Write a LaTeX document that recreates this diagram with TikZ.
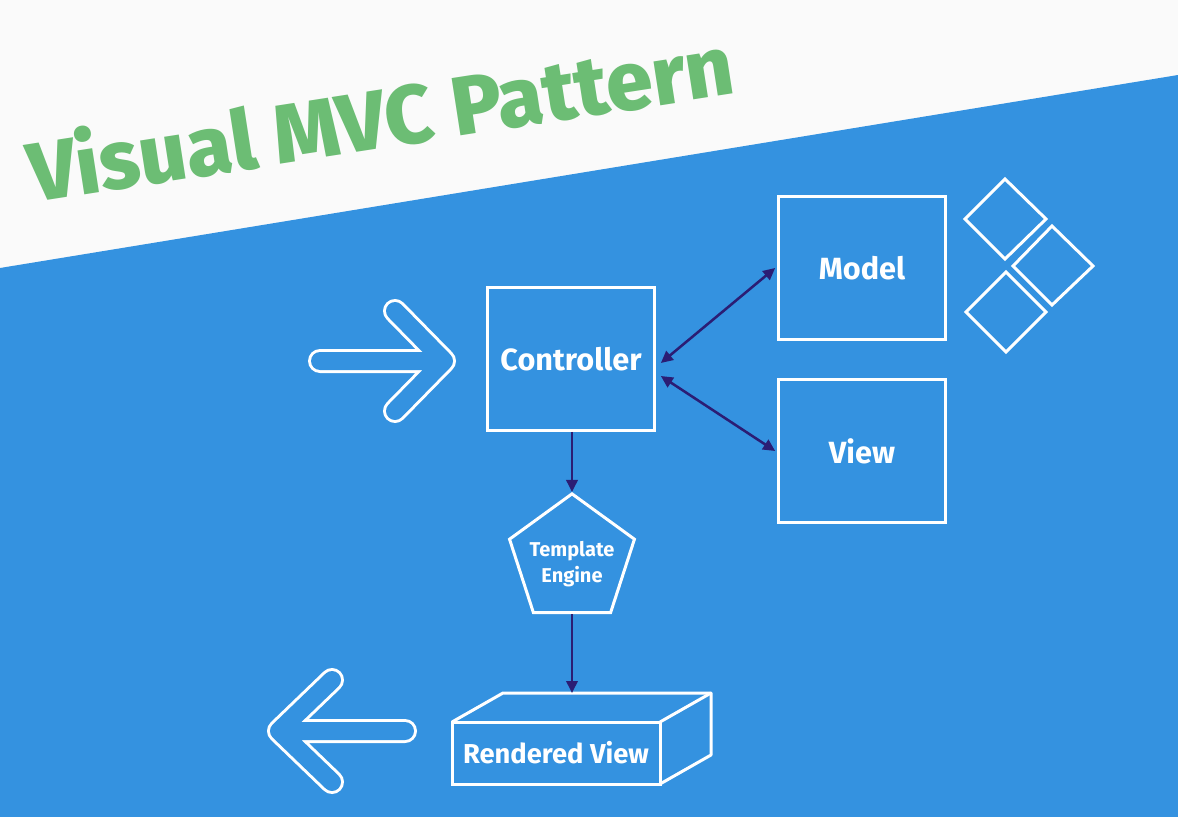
\documentclass[tikz,border=0pt]{standalone}
\usepackage{fontspec}
\setmainfont{Fira Sans}
\newfontfamily\titlefont{Fira Sans ExtraBold}
\usetikzlibrary{arrows.meta,shapes.geometric,calc}
\definecolor{bg}{HTML}{3492E0}
\definecolor{topbg}{HTML}{FAFAFA}
\definecolor{ttl}{HTML}{6CBD74}
\definecolor{navy}{HTML}{2B1D74}
\begin{document}
\begin{tikzpicture}[x=0.75pt,y=-0.75pt,
  box/.style={draw=white, line width=2.25pt, minimum width=125pt, minimum height=107pt, inner sep=0pt},
  lbl/.style={text=white, font=\bfseries\fontsize{23}{27}\selectfont},
  tip/.tip={Triangle[length=9pt,width=8.5pt]},
  link/.style={draw=navy, line width=1.9pt, tip-tip},
  down/.style={draw=navy, line width=1.9pt, -tip},
  outl/.style={draw=white, line width=2.25pt, line join=miter},
  hollowout/.style={draw=white, line width=18pt, line cap=round, line join=round},
  hollowin/.style={draw=bg, line width=13.5pt, line cap=round, line join=round}]
\useasboundingbox (0,0) rectangle (1178,817);
\fill[topbg] (0,0) rectangle (1178,817);
\fill[bg] (0,268) -- (1178,75) -- (1178,817) -- (0,817) -- cycle;

\node[rotate=8.8, anchor=base, text=ttl, font=\titlefont\fontsize{62.5}{64}\selectfont] (title) at (385,148) {Visual MVC Pattern};

\node[box, lbl] (ctrl) at (571,359) {Controller};
\node[box, lbl] (model) at (862,268) {Model};
\node[box, lbl] (view) at (862,451) {View};

\node[regular polygon, regular polygon sides=5, draw=white, line width=2.25pt, minimum size=98.5pt, inner sep=0pt,
  label={[text=white, align=center, font=\bfseries\fontsize{15}{19.5}\selectfont, yshift=-3.5pt]center:{Template\\Engine}}] (pent) at (572,559.5) {};

\node[draw=white, line width=2.25pt, minimum width=156pt, minimum height=46.5pt, inner sep=0pt, outer sep=0pt,
  text=white, font=\bfseries\fontsize{20.5}{24}\selectfont] (rv) at (556,753) {Rendered View};
\coordinate (rvbl) at ($(rv.north west)+(51,-29)$);
\coordinate (rvbr) at ($(rv.north east)+(51,-29)$);
\coordinate (rvbb) at ($(rv.south east)+(51,-29)$);
\draw[outl, line join=round] (rv.north west) -- (rvbl) -- (rvbr) -- (rvbb) -- (rv.south east);
\draw[outl] (rv.north east) -- (rvbr);

% connectors
\draw[link] ([xshift=3.75pt,yshift=-3pt]ctrl.east) -- ([xshift=-1.5pt]model.west);
\draw[link] ([xshift=3.75pt,yshift=-12.75pt]ctrl.east) -- ([xshift=-1.5pt]view.west);
\draw[down] (pent.north |- ctrl.south) -- (pent.north);
\draw[down] (pent.south) -- (pent.south |- rvbl);

% diamonds
\draw[outl] (1005,179) -- (1046,219) -- (1005,259) -- (965,219) -- cycle;
\draw[outl] (1052,226) -- (1093,266) -- (1052,305) -- (1013,266) -- cycle;
\draw[outl] (1006,272) -- (1046,312) -- (1006,352) -- (966,312) -- cycle;

% input arrow
\draw[hollowout] (320,361) -- (444,361) (395,311) -- (444,361) -- (395,411);
\draw[hollowin] (320,361) -- (444,361) (395,311) -- (444,361) -- (395,411);
% output arrow
\draw[hollowout] (405,731) -- (279,731) (332,680) -- (279,731) -- (332,782);
\draw[hollowin] (405,731) -- (279,731) (332,680) -- (279,731) -- (332,782);
\end{tikzpicture}
\end{document}
